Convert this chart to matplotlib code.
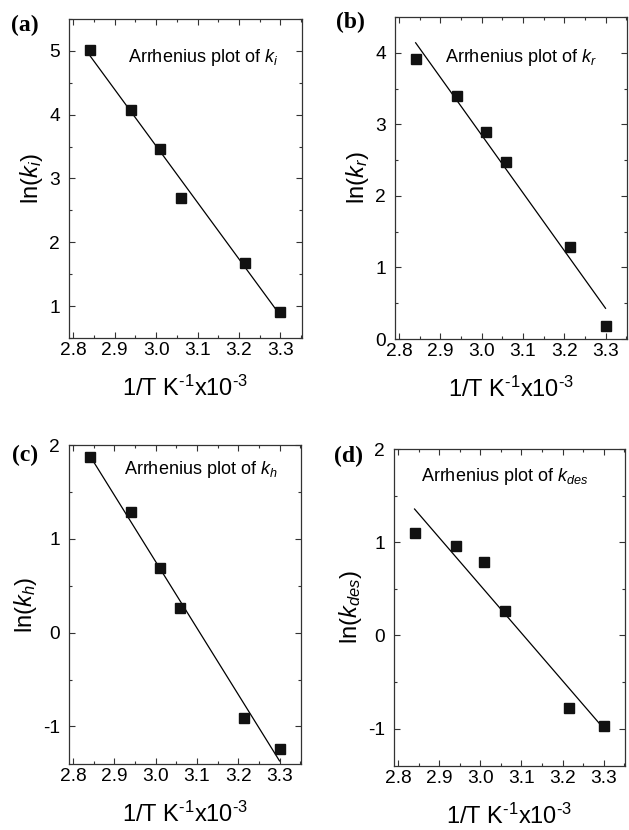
import numpy as np
import matplotlib
matplotlib.use('Agg')
import matplotlib.pyplot as plt
from matplotlib.ticker import MultipleLocator, FormatStrFormatter

plt.rcParams['font.family'] = 'Liberation Sans'
plt.rcParams['mathtext.fontset'] = 'custom'
plt.rcParams['mathtext.rm'] = 'Liberation Sans'
plt.rcParams['mathtext.it'] = 'Liberation Sans:italic'
plt.rcParams['axes.unicode_minus'] = False

# 1/T (x10^-3 K^-1)
inv_T = [2.84, 2.94, 3.01, 3.06, 3.215, 3.30]

# ln(k) values
ln_ki = [5.01, 4.08, 3.46, 2.70, 1.67, 0.91]
ln_kr = [3.92, 3.40, 2.89, 2.48, 1.28, 0.18]
ln_kh = [1.87, 1.285, 0.69, 0.26, -0.915, -1.235]
ln_kdes = [1.10, 0.96, 0.79, 0.26, -0.78, -0.97]

panel_tags = ['(a)', '(b)', '(c)', '(d)']
subs = ['i', 'r', 'h', 'des']
series = [ln_ki, ln_kr, ln_kh, ln_kdes]
ylims = [(0.5, 5.5), (0, 4.5), (-1.4, 2), (-1.4, 2)]
yticks = [[1, 2, 3, 4, 5], [0, 1, 2, 3, 4], [-1, 0, 1, 2], [-1, 0, 1, 2]]

W, H = 629, 830
# axes boxes in pixels: left, top, right, bottom
boxes = [(69, 19, 302, 338), (395, 17, 627, 339),
         (69, 445, 301, 764), (394, 449, 625, 766)]
tag_pos = [(25, 25), (350, 22), (25, 455), (349, 456)]
note_pos = [(0.253, 0.878), (0.215, 0.873), (0.237, 0.922), (0.117, 0.912)]

fig = plt.figure(figsize=(W / 100, H / 100), dpi=100)

for i in range(4):
    l, t, r, b = boxes[i]
    ax = fig.add_axes([l / W, 1 - b / H, (r - l) / W, (b - t) / H])
    x = np.array(inv_T)
    y = np.array(series[i])
    coef = np.polyfit(x, y, 1)
    xf = np.array([x[0], x[-1]])
    ax.plot(xf, np.polyval(coef, xf), color='black', lw=0.9)
    ax.plot(x, y, 's', color='#111111', ms=7)

    ax.set_xlim(2.79, 3.352)
    ax.set_ylim(*ylims[i])
    ax.set_xticks([2.8, 2.9, 3.0, 3.1, 3.2, 3.3])
    ax.xaxis.set_major_formatter(FormatStrFormatter('%.1f'))
    ax.xaxis.set_minor_locator(MultipleLocator(0.05))
    ax.set_yticks(yticks[i])
    ax.yaxis.set_minor_locator(MultipleLocator(0.5))
    ax.tick_params(which='both', direction='in', top=True, right=True,
                   labelsize=13.8, width=0.8, color='#333333')
    ax.tick_params(which='major', length=4.5)
    ax.tick_params(which='minor', length=2.5)
    ax.tick_params(axis='x', which='major', pad=3)
    ax.tick_params(axis='y', which='major', pad=6.5)
    for sp in ax.spines.values():
        sp.set_linewidth(0.9)
        sp.set_color('#333333')

    s = subs[i]
    ax.set_xlabel(r'1/T K$^{\text{-}1}$x10$^{\text{-}3}$', fontsize=17, labelpad=12)
    ax.set_ylabel(r'ln($k_{%s}$)' % s, fontsize=17, labelpad=3)
    ax.text(note_pos[i][0], note_pos[i][1], r'Arrhenius plot of $k_{%s}$' % s,
            transform=ax.transAxes, fontsize=13, va='center', ha='left')

    fig.text(tag_pos[i][0] / W, 1 - tag_pos[i][1] / H, panel_tags[i],
             family='Liberation Serif', weight='bold', fontsize=17,
             ha='center', va='center')

fig.savefig('out.png', dpi=100)
